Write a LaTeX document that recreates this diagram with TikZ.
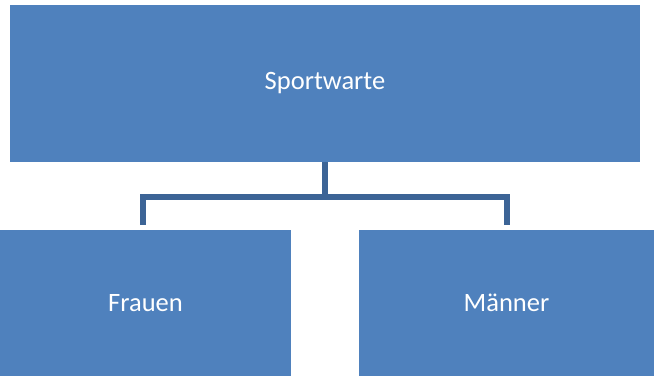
\documentclass[tikz,border=0pt]{standalone}
\usepackage{fontspec}
\setmainfont{Carlito}
\usetikzlibrary{calc}
\definecolor{boxblue}{HTML}{4F81BD}
\definecolor{connblue}{HTML}{3C6496}
\tikzset{
  box/.style={fill=boxblue, draw=none, inner sep=0pt, text=white, font=\fontsize{26.5}{30}\selectfont},
  conn/.style={draw=connblue, line width=6pt, line join=miter}
}
\begin{document}
\begin{tikzpicture}[x=1pt,y=1pt]
\useasboundingbox (0,0) rectangle (654,376);
\node[box, minimum width=630pt, minimum height=157pt] (top) at (325,292.5) {Sportwarte};
\node[box, minimum width=291pt, minimum height=146pt] (left) at (145.5,73) {Frauen};
\node[box, minimum width=295pt, minimum height=146pt] (right) at (506.5,73) {Männer};
\coordinate (hy) at (0,179);
\coordinate (lend) at ($(left.north)+(-2.5,5)$);
\coordinate (rend) at ($(right.north)+(0.5,5)$);
\draw[conn] (top.south) -- (top.south|-hy);
\draw[conn] (lend) -- (lend|-hy) -- (rend|-hy) -- (rend);
\end{tikzpicture}
\end{document}
